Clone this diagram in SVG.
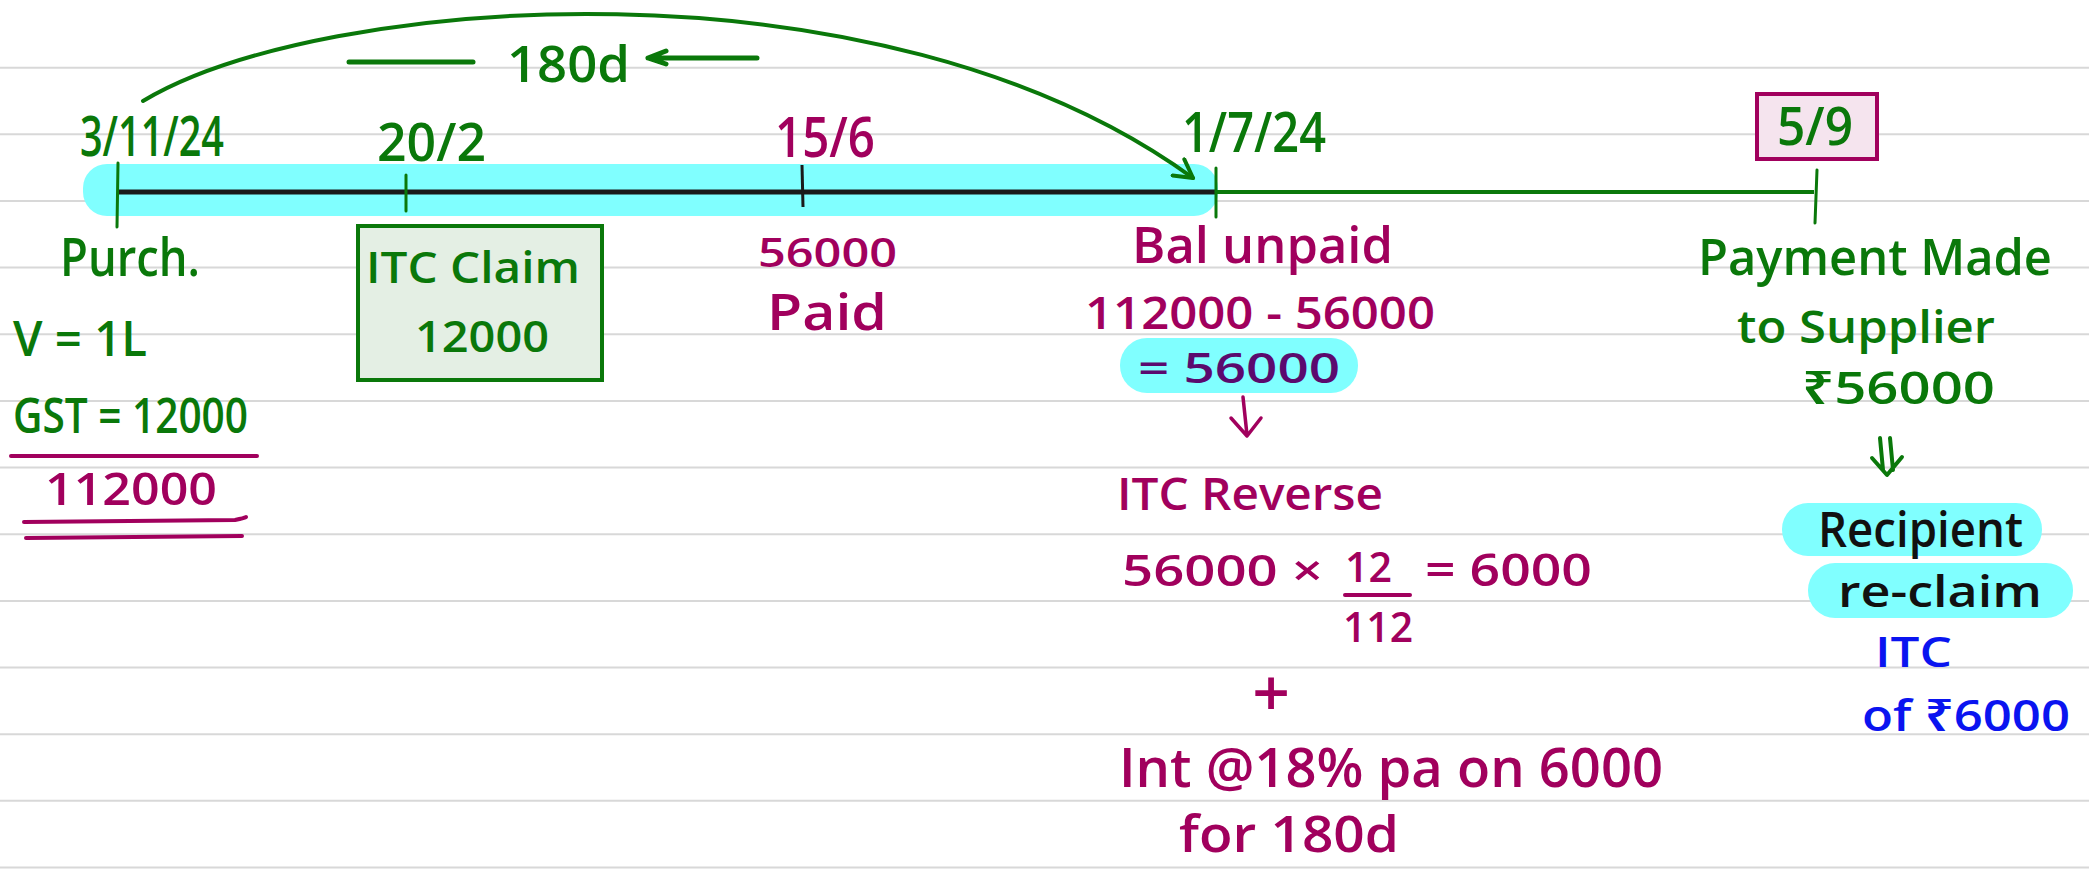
<svg xmlns="http://www.w3.org/2000/svg" width="2089" height="886" viewBox="0 0 2089 886">
<style>
text{font-family:"Open Sans","Liberation Sans","Noto Sans","DejaVu Sans",sans-serif;font-weight:600}
.g{fill:#0a780a}
.m{fill:#a1005d}
.b{fill:#0a14f0}
.k{fill:#111}
.p{fill:#5b0a6e}
.rule{stroke:#d8d8d8;stroke-width:2}
.hl{fill:#80ffff}
.gs{stroke:#0a780a;fill:none;stroke-width:4;stroke-linecap:round;stroke-linejoin:round}
.ms{stroke:#a1005d;fill:none;stroke-width:4;stroke-linecap:round;stroke-linejoin:round}
</style>
<defs>
<marker id="openArrow" viewBox="0 0 12 12" refX="10" refY="6" markerWidth="6" markerHeight="6" orient="auto" markerUnits="strokeWidth">
<path d="M1,1 L10,6 L1,11" fill="none" stroke="#0a780a" stroke-width="2" stroke-linecap="round" stroke-linejoin="round"/>
</marker>
</defs>
<rect width="2089" height="886" fill="#fff"/>
<g id="rules">
<line class="rule" x1="0" y1="67.7" x2="2089" y2="67.7"/>
<line class="rule" x1="0" y1="134.3" x2="2089" y2="134.3"/>
<line class="rule" x1="0" y1="201" x2="2089" y2="201"/>
<line class="rule" x1="0" y1="267.6" x2="2089" y2="267.6"/>
<line class="rule" x1="0" y1="334.3" x2="2089" y2="334.3"/>
<line class="rule" x1="0" y1="401" x2="2089" y2="401"/>
<line class="rule" x1="0" y1="467.6" x2="2089" y2="467.6"/>
<line class="rule" x1="0" y1="534.2" x2="2089" y2="534.2"/>
<line class="rule" x1="0" y1="600.9" x2="2089" y2="600.9"/>
<line class="rule" x1="0" y1="667.5" x2="2089" y2="667.5"/>
<line class="rule" x1="0" y1="734.2" x2="2089" y2="734.2"/>
<line class="rule" x1="0" y1="800.8" x2="2089" y2="800.8"/>
<line class="rule" x1="0" y1="867.5" x2="2089" y2="867.5"/>
</g>
<g id="timeline">
<rect class="hl" x="83" y="164" width="1135" height="52" rx="24"/>
<line x1="117" y1="192" x2="1216" y2="192" stroke="#1a1a1a" stroke-width="5"/>
<line x1="1216" y1="192" x2="1814" y2="192" stroke="#0a780a" stroke-width="4"/>
<line class="gs" x1="118" y1="163" x2="117" y2="227" style="stroke-width:3"/>
<line class="gs" x1="406" y1="175" x2="406" y2="211" style="stroke-width:3"/>
<line x1="802" y1="165" x2="803" y2="207" stroke="#1a1a1a" stroke-width="3"/>
<line class="gs" x1="1216" y1="168" x2="1216" y2="217" style="stroke-width:3"/>
<line class="gs" x1="1817" y1="170" x2="1815" y2="223" style="stroke-width:3"/>
</g>
<g id="connectors">
<path class="gs" d="M143,101 C320,-5 880,-50 1193,178" marker-end="url(#openArrow)"/>
<line class="gs" x1="349" y1="62" x2="473" y2="62" style="stroke-width:5"/>
<path class="gs" d="M757,58 L648,58 M666,51 L648,58 L666,64" style="stroke-width:5"/>
<path class="ms" d="M1243,397 L1247,435 M1231,418 L1247,436 L1261,418" style="stroke-width:3.5"/>
<path class="gs" d="M1880,438 L1883,470 M1890,438 L1893,470 M1872,458 L1887,475 L1902,457"/>
</g>
<g id="n-d1"><text class="g" x="80" y="156" font-size="56" textLength="144" lengthAdjust="spacingAndGlyphs">3/11/24</text></g>
<g id="n-d2"><text class="g" x="377" y="161" font-size="52" textLength="109" lengthAdjust="spacingAndGlyphs">20/2</text></g>
<g id="n-d3"><text class="m" x="775" y="157" font-size="56" textLength="100" lengthAdjust="spacingAndGlyphs">15/6</text></g>
<g id="n-d4"><text class="g" x="1182" y="152" font-size="56" textLength="144" lengthAdjust="spacingAndGlyphs">1/7/24</text></g>
<g id="n-d5">
<rect x="1757" y="94" width="120" height="65" fill="#f5e4ee" stroke="#a1005d" stroke-width="4"/>
<text class="g" x="1777" y="145" font-size="52" textLength="76" lengthAdjust="spacingAndGlyphs">5/9</text>
</g>
<g id="n-180"><text class="g" x="507" y="82" font-size="50" textLength="123" lengthAdjust="spacingAndGlyphs">180d</text></g>
<g id="n-purch">
<text class="g" x="60" y="276" font-size="52" textLength="140" lengthAdjust="spacingAndGlyphs">Purch.</text>
<text class="g" x="13" y="356" font-size="48" textLength="134" lengthAdjust="spacingAndGlyphs">V = 1L</text>
<text class="g" x="13" y="433" font-size="48" textLength="235" lengthAdjust="spacingAndGlyphs">GST = 12000</text>
<line class="ms" x1="11" y1="456" x2="257" y2="456"/>
<text class="m" x="45" y="505" font-size="46" textLength="172" lengthAdjust="spacingAndGlyphs">112000</text>
<path class="ms" d="M24,522 L235,520 Q245,518 246,517 M26,538 L242,536"/>
</g>
<g id="n-itc">
<rect x="358" y="226" width="244" height="154" fill="#e4efe4" stroke="#0a780a" stroke-width="4"/>
<text class="g" x="366" y="283" font-size="44" textLength="214" lengthAdjust="spacingAndGlyphs">ITC Claim</text>
<text class="g" x="415" y="352" font-size="44" textLength="134" lengthAdjust="spacingAndGlyphs">12000</text>
</g>
<g id="n-paid">
<text class="m" x="758" y="267" font-size="40" textLength="139" lengthAdjust="spacingAndGlyphs">56000</text>
<text class="m" x="767" y="330" font-size="50" textLength="120" lengthAdjust="spacingAndGlyphs">Paid</text>
</g>
<g id="n-bal">
<text class="m" x="1132" y="263" font-size="50" textLength="261" lengthAdjust="spacingAndGlyphs">Bal unpaid</text>
<text class="m" x="1085" y="329" font-size="46" textLength="350" lengthAdjust="spacingAndGlyphs">112000 - 56000</text>
<rect class="hl" x="1120" y="338" width="238" height="55" rx="27"/>
<text class="p" x="1138" y="383" font-size="42" textLength="202" lengthAdjust="spacingAndGlyphs">= 56000</text>
</g>
<g id="n-reverse">
<text class="m" x="1117" y="510" font-size="46" textLength="266" lengthAdjust="spacingAndGlyphs">ITC Reverse</text>
<text class="m" x="1122" y="586" font-size="44" textLength="201" lengthAdjust="spacingAndGlyphs">56000 ×</text>
<text class="m" x="1345" y="582" font-size="42" textLength="47" lengthAdjust="spacingAndGlyphs">12</text>
<line class="ms" x1="1345" y1="595" x2="1410" y2="595"/>
<text class="m" x="1343" y="642" font-size="42" textLength="70" lengthAdjust="spacingAndGlyphs">112</text>
<text class="m" x="1425" y="586" font-size="46" textLength="167" lengthAdjust="spacingAndGlyphs">= 6000</text>
<text class="m" x="1271" y="716" font-size="66" text-anchor="middle">+</text>
<text class="m" x="1119" y="787" font-size="54" textLength="544" lengthAdjust="spacingAndGlyphs">Int @18% pa on 6000</text>
<text class="m" x="1179" y="852" font-size="50" textLength="220" lengthAdjust="spacingAndGlyphs">for 180d</text>
</g>
<g id="n-payment">
<text class="g" x="1698" y="275" font-size="50" textLength="354" lengthAdjust="spacingAndGlyphs">Payment Made</text>
<text class="g" x="1737" y="343" font-size="46" textLength="258" lengthAdjust="spacingAndGlyphs">to Supplier</text>
<text class="g" x="1802" y="404" font-size="46" textLength="193" lengthAdjust="spacingAndGlyphs">₹56000</text>
</g>
<g id="n-recipient">
<rect class="hl" x="1782" y="503" width="260" height="53" rx="26"/>
<rect class="hl" x="1808" y="563" width="265" height="55" rx="27"/>
<text class="k" x="1818" y="547" font-size="48" textLength="205" lengthAdjust="spacingAndGlyphs">Recipient</text>
<text class="k" x="1838" y="607" font-size="44" textLength="204" lengthAdjust="spacingAndGlyphs">re-claim</text>
<text class="b" x="1875" y="667" font-size="42" textLength="77" lengthAdjust="spacingAndGlyphs">ITC</text>
<text class="b" x="1862" y="731" font-size="44" textLength="208" lengthAdjust="spacingAndGlyphs">of ₹6000</text>
</g>
</svg>
